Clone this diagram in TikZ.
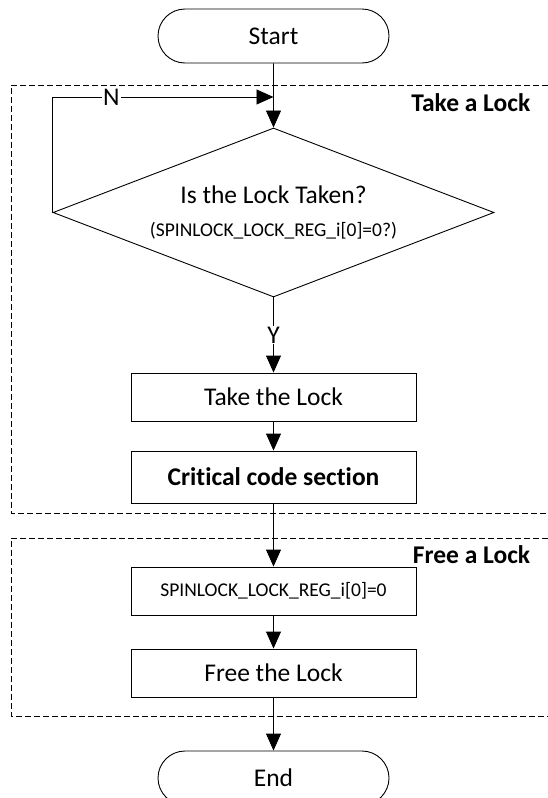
\documentclass[tikz,border=0pt]{standalone}
\usepackage{fontspec}
\setmainfont{Carlito}[Ligatures=NoCommon]
\usetikzlibrary{arrows.meta,shapes.geometric,shapes.misc}

\begin{document}
\begin{tikzpicture}[x=1pt,y=-1pt,>={Triangle[length=17pt,width=15pt]},line width=0.9pt,
  big/.style={font=\fontsize{25.5}{30}\selectfont},
  term/.style={draw,big,rounded rectangle,minimum width=231pt,minimum height=54pt,inner sep=0pt},
  proc/.style={draw,big,rectangle,minimum width=285pt,minimum height=48pt,inner sep=0pt},
  decide/.style={draw,big,diamond,aspect=2.6,minimum width=441pt,minimum height=169pt,inner sep=0pt,align=center},
  tag/.style={big,fill=white,inner sep=1pt},
  grp/.style={dash pattern=on 6pt off 3pt,line width=0.7pt},
  grptitle/.style={font=\fontsize{25.5}{30}\selectfont\bfseries,anchor=east}]
\useasboundingbox (0,0) rectangle (548,798);
% the two dashed groups (open to the right edge)
\draw[grp] (548,85)--(11,85)--(11,513)--(548,513);
\draw[grp] (548,538)--(11,538)--(11,716)--(548,716);
\node[grptitle] (tlock) at (534,103) {Take a Lock};
\node[grptitle] (flock) at (534,555) {Free a Lock};
% flow
\node[term] (start) at (273.5,36) {Start};
\node[decide] (taken) at (273.5,212.5) {Is the Lock Taken?\\[3pt]{\fontsize{19.5}{23}\selectfont (SPINLOCK\_LOCK\_REG\_i[0]=0?)}};
\node[proc] (take) at (273.5,397) {Take the Lock};
\node[proc,font=\fontsize{25.5}{30}\selectfont\bfseries,minimum height=52pt] (crit) at (273.5,477) {Critical code section};
\node[proc,font=\fontsize{19.5}{23}\selectfont] (clear) at (273.5,591) {SPINLOCK\_LOCK\_REG\_i[0]=0};
\node[proc] (free) at (273.5,673) {Free the Lock};
\node[term] (end) at (273.5,778) {End};
\coordinate (join) at (273.5,97);
\draw[->] (start)--(taken);
\draw[->] (taken.west) |- node[tag,pos=0.633]{N} (join);
\draw[->] (taken)-- node[tag]{Y} (take);
\draw[->] (take)--(crit);
\draw[->] (crit)--(clear);
\draw[->] (clear)--(free);
\draw[->] (free)--(end);
\end{tikzpicture}
\end{document}
